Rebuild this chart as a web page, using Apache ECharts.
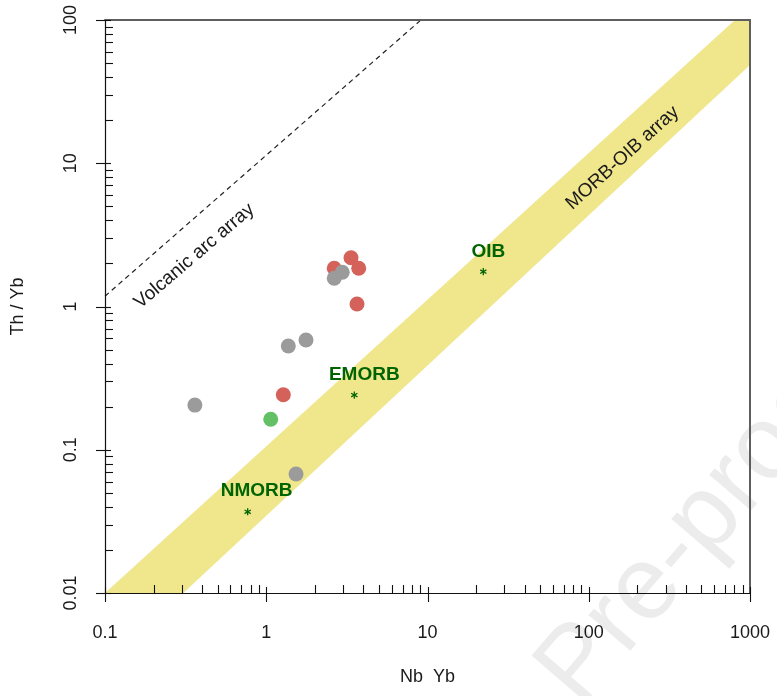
<!DOCTYPE html>
<html>
<head>
<meta charset="utf-8">
<script src="https://cdn.jsdelivr.net/npm/echarts@6/dist/echarts.min.js"></script>
<style>
  html, body { margin: 0; padding: 0; background: #ffffff; }
  #chart { width: 777px; height: 696px; }
</style>
</head>
<body>
<div id="chart"></div>
<script>
// Th/Yb vs Nb/Yb discrimination diagram (log-log)

// Axis ticks and labels
const xMajorTicks = [0.1, 1, 10, 100, 1000];
const xTickLabels = ['0.1', '1', '10', '100', '1000'];
const yMajorTicks = [0.01, 0.1, 1, 10, 100];
const yTickLabels = ['0.01', '0.1', '1', '10', '100'];

// Samples
const redNbYb = [2.64, 3.355, 3.745, 3.655, 1.276];
const redThYb = [1.848, 2.191, 1.848, 1.041, 0.2423];
const grayNbYb = [0.361, 1.37, 1.764, 2.64, 2.96, 1.53];
const grayThYb = [0.205, 0.530, 0.584, 1.573, 1.733, 0.0677];
const greenNbYb = [1.066];
const greenThYb = [0.1634];

// Reference compositions
const refNames = ['NMORB', 'EMORB', 'OIB'];
const refNbYb = [0.767, 3.516, 22.18];
const refThYb = [0.0369, 0.241, 1.75];

// MORB-OIB array outline
const arrayNbYb = [0.1, 0.306, 1000, 1000, 807];
const arrayThYb = [0.01, 0.01, 48.5, 100, 100];

// Volcanic arc array guide line
const arcNbYb = [0.1, 9.1];
const arcThYb = [1.18, 100];

// Field names drawn along the arrays
const fieldNames = ['Volcanic arc array', 'MORB-OIB array'];
const fieldNbYb = [0.358, 162];
const fieldThYb = [2.25, 10.9];

const FONT = '"Liberation Sans", Arial, Helvetica, sans-serif';
const X_MIN = 0.1, X_MAX = 1000, Y_MIN = 0.01, Y_MAX = 100;

function minorOf(majors) {
  const out = [];
  for (let i = 0; i < majors.length - 1; i++) {
    for (let k = 2; k <= 9; k++) out.push(majors[i] * k);
  }
  return out;
}
const xMinorTicks = minorOf(xMajorTicks);
const yMinorTicks = minorOf(yMajorTicks);

const zip = (a, b) => a.map((v, i) => [v, b[i]]);
const crisp = v => Math.round(v) + 0.5;

function tickSeries(dir, values, inside, outside) {
  return {
    type: 'custom',
    silent: true,
    z: 6,
    clip: false,
    data: values.map(v => dir === 'x' ? [v, Y_MIN] : [X_MIN, v]),
    renderItem(params, api) {
      const p = api.coord([api.value(0), api.value(1)]);
      if (dir === 'x') {
        const x = crisp(p[0]);
        return { type: 'line', shape: { x1: x, y1: p[1] - inside, x2: x, y2: p[1] + outside },
                 style: { stroke: '#111', lineWidth: 1.1 } };
      }
      const y = crisp(p[1]);
      return { type: 'line', shape: { x1: p[0] - outside, y1: y, x2: p[0] + inside, y2: y },
               style: { stroke: '#111', lineWidth: 1.1 } };
    }
  };
}

function labelFor(list, min, v) {
  return list[Math.round(Math.log10(v)) - Math.round(Math.log10(min))] || '';
}

const fieldAngles = [40.5, 42];
const labelOffsets = { NMORB: [9, -21], EMORB: [10, -20], OIB: [5, -20] };

const chart = echarts.init(document.getElementById('chart'), null, { renderer: 'canvas' });

const option = {
  animation: false,
  backgroundColor: '#ffffff',
  textStyle: { fontFamily: FONT },
  grid: { left: 105, right: 27, top: 20, bottom: 103, containLabel: false },
  graphic: [{
    type: 'text',
    x: 598, y: 724,
    rotation: 0.86,
    z: 0,
    silent: true,
    style: { text: 'Pre-proof', fontSize: 104, fontFamily: FONT, fill: '#ececec',
             textAlign: 'left', textVerticalAlign: 'bottom' }
  }],
  xAxis: [{
    type: 'log', logBase: 10, min: X_MIN, max: X_MAX, position: 'bottom', z: 5,
    axisLine: { show: true, lineStyle: { color: '#111', width: 1.2 } },
    axisTick: { show: false }, splitLine: { show: false },
    axisLabel: { fontSize: 18, color: '#1a1a1a', margin: 31, fontFamily: FONT,
                 formatter: v => labelFor(xTickLabels, X_MIN, v) },
    name: 'Nb  Yb', nameLocation: 'middle', nameGap: 75,
    nameTextStyle: { fontSize: 18, color: '#1a1a1a', fontFamily: FONT }
  }, {
    type: 'log', logBase: 10, min: X_MIN, max: X_MAX, position: 'top', z: 5,
    axisLine: { show: true, lineStyle: { color: '#5e5e5e', width: 2 } },
    axisTick: { show: false }, axisLabel: { show: false }, splitLine: { show: false }
  }],
  yAxis: [{
    type: 'log', logBase: 10, min: Y_MIN, max: Y_MAX, position: 'left', z: 5,
    axisLine: { show: true, lineStyle: { color: '#111', width: 1.2 } },
    axisTick: { show: false }, splitLine: { show: false },
    axisLabel: { fontSize: 18, color: '#1a1a1a', margin: 25, rotate: 90, fontFamily: FONT,
                 formatter: v => labelFor(yTickLabels, Y_MIN, v) },
    name: 'Th / Yb', nameLocation: 'middle', nameGap: 78,
    nameTextStyle: { fontSize: 18, color: '#1a1a1a', fontFamily: FONT }
  }, {
    type: 'log', logBase: 10, min: Y_MIN, max: Y_MAX, position: 'right', z: 5,
    axisLine: { show: true, lineStyle: { color: '#5e5e5e', width: 2 } },
    axisTick: { show: false }, axisLabel: { show: false }, splitLine: { show: false }
  }],
  series: [
    {
      // MORB-OIB array band
      type: 'custom', silent: true, z: 1, clip: true,
      data: [0],
      renderItem(params, api) {
        const pts = arrayNbYb.map((x, i) => api.coord([x, arrayThYb[i]]));
        return { type: 'polygon', shape: { points: pts }, style: { fill: '#F0E68C' } };
      }
    },
    {
      // Volcanic arc array (dashed)
      type: 'line', silent: true, z: 2, showSymbol: false, symbol: 'none',
      data: zip(arcNbYb, arcThYb),
      lineStyle: { color: '#222', width: 1.2, type: [5, 4] }
    },
    {
      // Field names along the arrays
      type: 'custom', silent: true, z: 3,
      data: zip(fieldNbYb, fieldThYb),
      renderItem(params, api) {
        const i = params.dataIndex;
        const p = api.coord([api.value(0), api.value(1)]);
        return {
          type: 'text', x: p[0], y: p[1], rotation: fieldAngles[i] * Math.PI / 180,
          style: { text: fieldNames[i], fontSize: 19, fontFamily: FONT, fill: '#1a1a1a',
                   textAlign: 'center', textVerticalAlign: 'middle' }
        };
      }
    },
    {
      type: 'scatter', name: 'red', z: 4, symbol: 'circle', symbolSize: 15,
      data: zip(redNbYb, redThYb),
      itemStyle: { color: '#D4625A', opacity: 1 }
    },
    {
      type: 'scatter', name: 'gray', z: 4, symbol: 'circle', symbolSize: 15,
      data: zip(grayNbYb, grayThYb),
      itemStyle: { color: '#9B9B9B', opacity: 1 }
    },
    {
      type: 'scatter', name: 'green', z: 4, symbol: 'circle', symbolSize: 15,
      data: zip(greenNbYb, greenThYb),
      itemStyle: { color: '#63C065', opacity: 1 }
    },
    {
      // Reference compositions: asterisk with name above
      type: 'custom', silent: true, z: 5,
      data: zip(refNbYb, refThYb),
      renderItem(params, api) {
        const name = refNames[params.dataIndex];
        const p = api.coord([api.value(0), api.value(1)]);
        const off = labelOffsets[name];
        const r = 3.6;
        const star = [0, 60, 120].map(a => {
          const t = a * Math.PI / 180;
          return { type: 'line',
                   shape: { x1: p[0] - r * Math.sin(t), y1: p[1] - r * Math.cos(t),
                            x2: p[0] + r * Math.sin(t), y2: p[1] + r * Math.cos(t) },
                   style: { stroke: '#006400', lineWidth: 1.3 } };
        });
        return {
          type: 'group',
          children: star.concat([{
            type: 'text', x: p[0] + off[0], y: p[1] + off[1],
            style: { text: name, fontSize: 19, fontWeight: 'bold', fontFamily: FONT,
                     fill: '#006400', textAlign: 'center', textVerticalAlign: 'middle' }
          }])
        };
      }
    },
    tickSeries('x', xMajorTicks, 6, 9),
    tickSeries('x', xMinorTicks, 8, 0),
    tickSeries('y', yMajorTicks, 6, 9),
    tickSeries('y', yMinorTicks, 8, 0)
  ]
};

chart.setOption(option);
</script>
</body>
</html>
